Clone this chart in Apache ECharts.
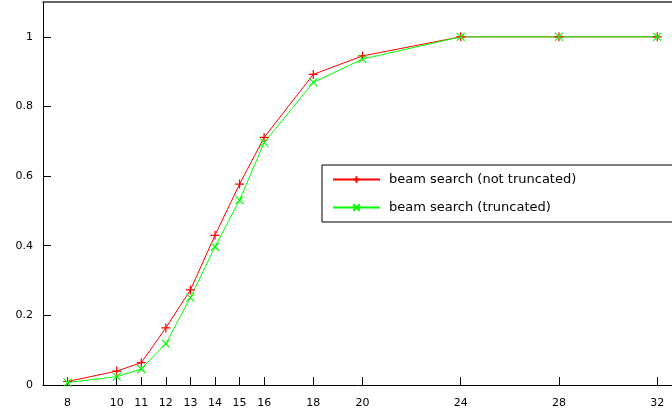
<!DOCTYPE html>
<html>
<head>
<meta charset="utf-8">
<script src="https://cdn.jsdelivr.net/npm/echarts@6/dist/echarts.min.js"></script>
<style>
  html, body { margin: 0; padding: 0; background: #fff; }
  #main { width: 672px; height: 414px; }
</style>
</head>
<body>
<div id="main"></div>
<script>
var xTicks = [8, 10, 11, 12, 13, 14, 15, 16, 18, 20, 24, 28, 32];
var sizes = [8, 10, 11, 12, 13, 14, 15, 16, 18, 20, 24, 28, 32];
var notTruncated = [0.01, 0.04, 0.064, 0.164, 0.273, 0.43, 0.577, 0.711, 0.892, 0.945, 1, 1, 1];
var truncated = [0.007, 0.024, 0.046, 0.119, 0.251, 0.397, 0.531, 0.696, 0.869, 0.936, 1, 1, 1];

function pairs(xs, ys) {
    return xs.map(function (x, i) { return [x, ys[i]]; });
}

var plusPath = 'path://M0,5L10,5M5,0L5,10';
var crossPath = 'path://M0,0L10,10M0,10L10,0';

var chart = echarts.init(document.getElementById('main'), null, { renderer: 'canvas' });

var option = {
    animation: false,
    textStyle: { fontFamily: 'DejaVu Sans' },
    grid: {
        left: 43,
        top: 2,
        bottom: 29,
        right: 0
    },
    legend: {
        orient: 'vertical',
        left: 322,
        top: 165,
        itemWidth: 47,
        itemHeight: 8,
        itemGap: 15,
        padding: [8, 99, 8, 10],
        borderColor: '#000',
        borderWidth: 1,
        textStyle: { fontSize: 13, color: '#000', fontFamily: 'DejaVu Sans', padding: [0, 0, 0, 4] },
        data: ['beam search (not truncated)', 'beam search (truncated)']
    },
    xAxis: [
        {
            type: 'value',
            min: 7,
            max: 32.6,
            splitLine: { show: false },
            axisLine: { lineStyle: { color: '#000', width: 1 } },
            axisTick: { inside: true, length: 8, customValues: xTicks, lineStyle: { color: '#000' } },
            axisLabel: { customValues: xTicks, fontSize: 11, color: '#000', margin: 13 }
        },
        {
            type: 'value',
            position: 'top',
            min: 7,
            max: 32.6,
            splitLine: { show: false },
            axisLine: { show: true, lineStyle: { color: '#333', width: 1.5 } },
            axisTick: { show: false },
            axisLabel: { show: false }
        }
    ],
    yAxis: {
        type: 'value',
        min: 0,
        max: 1.1,
        interval: 0.2,
        splitLine: { show: false },
        axisLine: { show: true, lineStyle: { color: '#000', width: 1 } },
        axisTick: { show: true, inside: true, length: 8, lineStyle: { color: '#000' } },
        axisLabel: {
            fontSize: 11, color: '#000', margin: 10, showMaxLabel: false,
            formatter: function (v) { return v > 1.05 ? '' : String(Math.round(v * 10) / 10); }
        }
    },
    series: [
        {
            name: 'beam search (not truncated)',
            type: 'line',
            data: pairs(sizes, notTruncated),
            symbol: plusPath,
            symbolSize: 9,
            showAllSymbol: true,
            lineStyle: { color: '#ff0000', width: 1 },
            itemStyle: { color: 'rgba(0,0,0,0)', borderColor: '#ff0000', borderWidth: 1.2 }
        },
        {
            name: 'beam search (truncated)',
            type: 'line',
            data: pairs(sizes, truncated),
            symbol: crossPath,
            symbolSize: 8,
            showAllSymbol: true,
            lineStyle: { color: '#00ff00', width: 1 },
            itemStyle: { color: 'rgba(0,0,0,0)', borderColor: '#00ff00', borderWidth: 1.2 }
        }
    ]
};

chart.setOption(option);
</script>
</body>
</html>
